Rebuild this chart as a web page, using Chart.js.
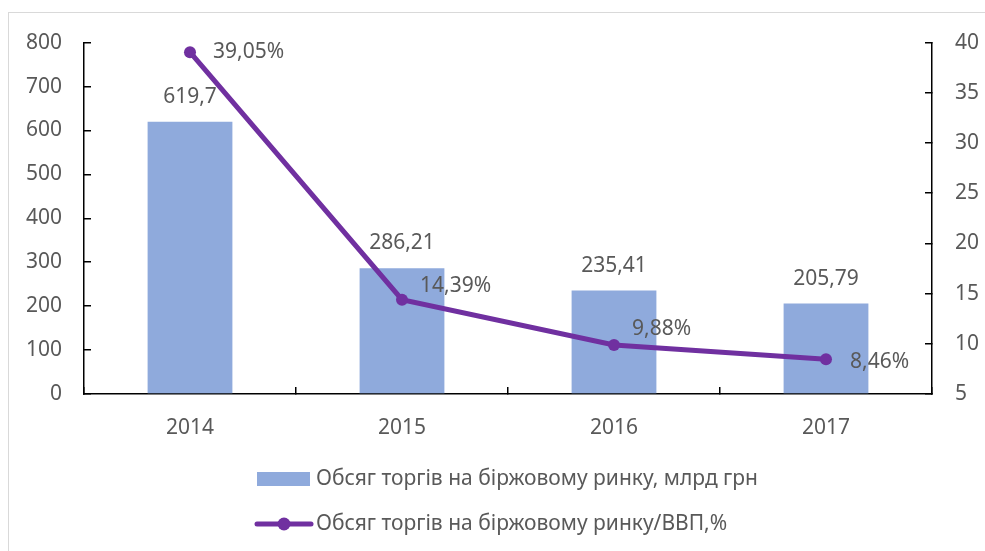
<!DOCTYPE html>
<html>
<head>
<meta charset="utf-8">
<script src="https://cdn.jsdelivr.net/npm/chart.js@4"></script>
<style>
  html, body { margin: 0; padding: 0; background: #fff; }
  #wrap { position: relative; width: 985px; height: 551px; overflow: hidden; }
  #frame { position: absolute; left: 8px; top: 12px; width: 2000px; height: 2000px; border: 1.5px solid #d9d9d9; box-sizing: border-box; }
  canvas { position: absolute; left: 0; top: 0; }
</style>
</head>
<body>
<div id="wrap">
  <div id="frame"></div>
  <canvas id="c" width="985" height="551"></canvas>
</div>
<script>
const categories = ['2014', '2015', '2016', '2017'];
const volumeValues = [619.7, 286.21, 235.41, 205.79];
const gdpShareValues = [39.05, 14.39, 9.88, 8.46];
const volumeLabels = ['619,7', '286,21', '235,41', '205,79'];
const gdpShareLabels = ['39,05%', '14,39%', '9,88%', '8,46%'];
const leftAxis = { min: 0, max: 800, step: 100 };
const rightAxis = { min: 5, max: 40, step: 5 };
const seriesNames = ['Обсяг торгів на біржовому ринку, млрд грн', 'Обсяг торгів на біржовому ринку/ВВП,%'];

const FONT = "'Noto Sans', sans-serif";
const TXT = '#595959';
const BAR = '#8faadc';
const LINE = '#7030a0';
const FS = 21;

const labelPlugin = {
  id: 'labels',
  afterDatasetsDraw(chart) {
    const ctx = chart.ctx;
    ctx.save();
    ctx.font = FS + 'px ' + FONT;
    ctx.fillStyle = TXT;
    ctx.textBaseline = 'middle';
    ctx.textAlign = 'center';
    chart.getDatasetMeta(1).data.forEach((el, i) => {
      ctx.fillText(volumeLabels[i], el.x, el.y - 25);
    });
    const offs = [[23, 0], [18, -14], [18, -16], [24, 3]];
    ctx.textAlign = 'left';
    chart.getDatasetMeta(0).data.forEach((el, i) => {
      ctx.fillText(gdpShareLabels[i], el.x + offs[i][0], el.y + offs[i][1]);
    });
    ctx.restore();
  },
  afterDraw(chart) {
    const ctx = chart.ctx;
    ctx.save();
    ctx.font = FS + 'px ' + FONT;
    ctx.textBaseline = 'middle';
    ctx.textAlign = 'left';
    const lx = 257;
    const y1 = 479;
    ctx.fillStyle = BAR;
    ctx.fillRect(lx, y1 - 7, 53, 14);
    ctx.fillStyle = TXT;
    ctx.fillText(seriesNames[0], lx + 59, y1);
    const y2 = 524;
    ctx.strokeStyle = LINE;
    ctx.lineWidth = 5;
    ctx.lineCap = 'round';
    ctx.beginPath();
    ctx.moveTo(lx, y2);
    ctx.lineTo(lx + 54, y2);
    ctx.stroke();
    ctx.fillStyle = LINE;
    ctx.beginPath();
    ctx.arc(lx + 27, y2, 6.5, 0, Math.PI * 2);
    ctx.fill();
    ctx.fillStyle = TXT;
    ctx.fillText(seriesNames[1], lx + 59, y2);
    ctx.restore();
  }
};

const tickFont = { family: FONT, size: FS };

new Chart(document.getElementById('c'), {
  data: {
    labels: categories,
    datasets: [
      {
        type: 'line',
        label: seriesNames[1],
        data: gdpShareValues,
        yAxisID: 'y1',
        borderColor: LINE,
        backgroundColor: LINE,
        borderWidth: 5,
        pointRadius: 6,
        pointBackgroundColor: LINE,
        pointBorderWidth: 0,
        tension: 0,
        order: 0
      },
      {
        type: 'bar',
        label: seriesNames[0],
        data: volumeValues,
        yAxisID: 'y',
        backgroundColor: BAR,
        barPercentage: 0.4,
        categoryPercentage: 1.0,
        order: 1
      }
    ]
  },
  options: {
    responsive: false,
    animation: false,
    layout: { padding: { top: 41, left: 0, right: 0, bottom: 107 } },
    plugins: { legend: { display: false }, tooltip: { enabled: false } },
    scales: {
      x: {
        offset: true,
        grid: { offset: true, drawOnChartArea: false, tickLength: -7, color: '#000', lineWidth: 1.5 },
        border: { color: '#000', width: 1.5 },
        ticks: { font: tickFont, color: TXT, padding: 28 },
        afterFit(s) { s.height = 50; }
      },
      y: {
        position: 'left',
        min: leftAxis.min, max: leftAxis.max,
        grid: { drawOnChartArea: false, tickLength: -7, color: '#000', lineWidth: 1.5 },
        border: { color: '#000', width: 1.5 },
        ticks: { stepSize: leftAxis.step, font: tickFont, color: TXT, padding: 29 },
        afterFit(s) { s.width = 84; }
      },
      y1: {
        position: 'right',
        min: rightAxis.min, max: rightAxis.max,
        grid: { drawOnChartArea: false, tickLength: -7, color: '#000', lineWidth: 1.5 },
        border: { color: '#000', width: 1.5 },
        ticks: { stepSize: rightAxis.step, font: tickFont, color: TXT, padding: 30 },
        afterFit(s) { s.width = 53; }
      }
    }
  },
  plugins: [labelPlugin]
});
</script>
</body>
</html>
